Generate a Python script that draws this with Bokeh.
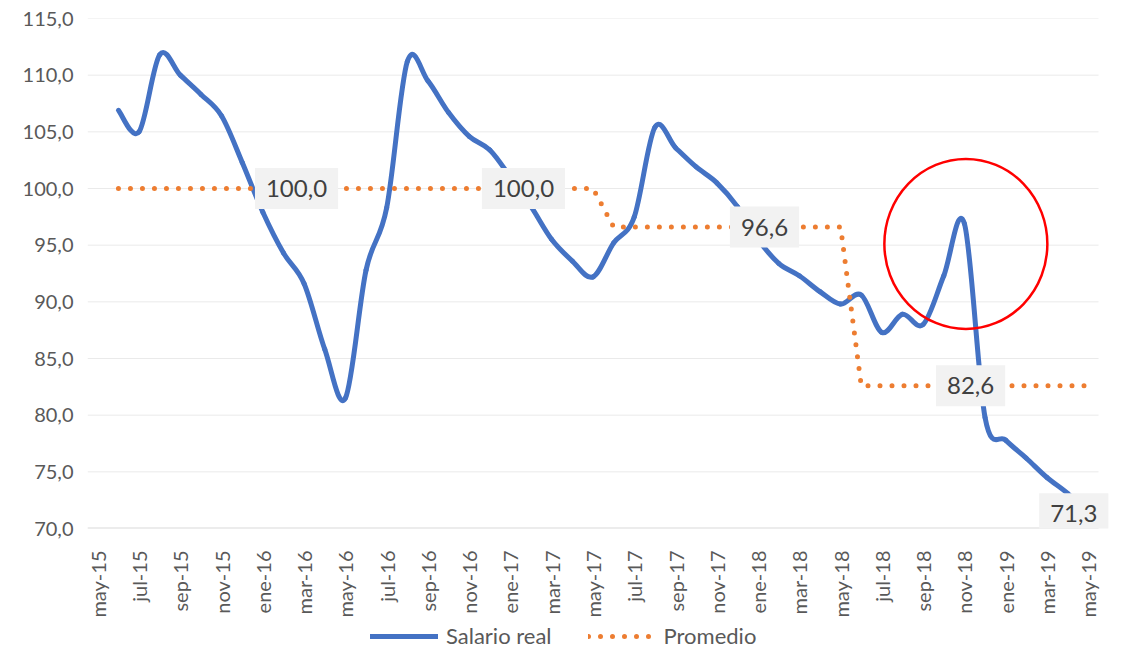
from math import pi
from bokeh.plotting import figure
from bokeh.layouts import column
from bokeh.models import Range1d, FixedTicker, Legend, LegendItem, Label
from bokeh.embed import file_html
from bokeh.resources import INLINE

# ---------------- data ----------------
months = ["may-15", "jun-15", "jul-15", "ago-15", "sep-15", "oct-15", "nov-15", "dic-15",
          "ene-16", "feb-16", "mar-16", "abr-16", "may-16", "jun-16", "jul-16", "ago-16",
          "sep-16", "oct-16", "nov-16", "dic-16",
          "ene-17", "feb-17", "mar-17", "abr-17", "may-17", "jun-17", "jul-17", "ago-17",
          "sep-17", "oct-17", "nov-17", "dic-17",
          "ene-18", "feb-18", "mar-18", "abr-18", "may-18", "jun-18", "jul-18", "ago-18",
          "sep-18", "oct-18", "nov-18", "dic-18",
          "ene-19", "feb-19", "mar-19", "abr-19", "may-19"]

# values from jun-15 to may-19 (may-15 is empty)
salario = [106.9, 105.0, 111.8, 110.0, 108.3, 106.4, 102.3,
           97.9, 94.3, 91.6, 85.8, 81.5, 92.8, 98.3, 111.2, 109.5, 106.7, 104.6, 103.4,
           101.0, 98.4, 95.5, 93.6, 92.2, 95.2, 97.5, 105.4, 103.6, 101.9, 100.5, 98.4,
           95.5, 93.4, 92.3, 90.9, 89.8, 90.6, 87.3, 88.9, 88.0, 92.3, 96.9, 79.8,
           77.8, 76.2, 74.5, 73.1, 71.3]

promedio = [100.0, 100.0, 100.0, 100.0, 100.0, 100.0, 100.0,
            100.0, 100.0, 100.0, 100.0, 100.0, 100.0, 100.0, 100.0, 100.0, 100.0, 100.0, 100.0,
            100.0, 100.0, 100.0, 100.0, 100.0, 96.6, 96.6, 96.6, 96.6, 96.6, 96.6, 96.6,
            96.6, 96.6, 96.6, 96.6, 96.6, 82.6, 82.6, 82.6, 82.6, 82.6, 82.6, 82.6,
            82.6, 82.6, 82.6, 82.6, 82.6]

y_ticks = [70, 75, 80, 85, 90, 95, 100, 105, 110, 115]

data_labels = [100.0, 100.0, 96.6, 82.6, 71.3]

series_names = ["Salario real", "Promedio"]

# ---------------- layout / style ----------------
label_x = [9.63, 20.63, 32.31, 42.30, 47.30]
highlight = dict(x=42.07, y=95.11, w=163, h=170)

FONT = "Lato"
BLUE = "#4472C4"
ORANGE = "#ED7D31"
GREY = "#595959"
GRID = "#EAEAEA"

def fmt(v):
    return f"{v:.1f}".replace(".", ",")

x_all = list(range(len(months)))
xs = x_all[1:]
x_lo, x_hi = -0.5, len(months) - 0.5

p = figure(width=1110, height=620, output_backend="svg", toolbar_location=None,
           x_range=Range1d(x_lo, 49.08), y_range=Range1d(70, 115),
           min_border_left=87, min_border_right=0, min_border_top=18, min_border_bottom=92)
p.outline_line_color = None
p.background_fill_color = "white"
p.border_fill_color = "white"

# axes
p.xaxis.ticker = FixedTicker(ticks=x_all[::2])
p.xaxis.major_label_overrides = {i: months[i] for i in x_all[::2]}
p.xaxis.major_label_orientation = pi / 2
p.xaxis.major_tick_line_color = None
p.xaxis.minor_tick_line_color = None
p.xaxis.axis_line_color = None
p.xaxis.major_label_standoff = 16
p.xaxis.major_label_text_font = FONT
p.xaxis.major_label_text_font_size = "20px"
p.xaxis.major_label_text_color = GREY

p.yaxis.ticker = FixedTicker(ticks=y_ticks)
p.yaxis.major_label_overrides = {t: fmt(t) for t in y_ticks}
p.yaxis.major_tick_line_color = None
p.yaxis.minor_tick_line_color = None
p.yaxis.axis_line_color = None
p.yaxis.major_label_standoff = 8
p.yaxis.major_label_text_font = FONT
p.yaxis.major_label_text_font_size = "20px"
p.yaxis.major_label_text_color = GREY

p.xgrid.grid_line_color = None
p.ygrid.grid_line_color = None

# horizontal gridlines across the category span, and the category axis line
grid_y = y_ticks[1:]
p.segment(x0=[x_lo] * len(grid_y), y0=grid_y, x1=[x_hi] * len(grid_y), y1=grid_y,
          line_color=GRID, line_width=1)
p.segment(x0=[x_lo], y0=[y_ticks[0]], x1=[x_hi], y1=[y_ticks[0]],
          line_color="#D9D9D9", line_width=2)

# smoothed blue line (Bezier segments through the data points)
n = len(salario)
x0, y0, x1, y1, cx0, cy0, cx1, cy1 = [], [], [], [], [], [], [], []
for k in range(n - 1):
    km = max(k - 1, 0)
    kp = min(k + 2, n - 1)
    x0.append(xs[k]); y0.append(salario[k])
    x1.append(xs[k + 1]); y1.append(salario[k + 1])
    cx0.append(xs[k] + (xs[k + 1] - xs[km]) / 6.0)
    cy0.append(salario[k] + (salario[k + 1] - salario[km]) / 6.0)
    cx1.append(xs[k + 1] - (xs[kp] - xs[k]) / 6.0)
    cy1.append(salario[k + 1] - (salario[kp] - salario[k]) / 6.0)

p.bezier(x0=x0, y0=y0, x1=x1, y1=y1, cx0=cx0, cy0=cy0, cx1=cx1, cy1=cy1,
         line_color=BLUE, line_width=5, line_cap="round")

p.line(xs, promedio, line_color=ORANGE, line_width=5, line_dash="0 12",
       line_cap="round", line_join="round")

# highlight ellipse
p.ellipse(x=[highlight["x"]], y=[highlight["y"]], width=highlight["w"], height=highlight["h"],
          width_units="screen", height_units="screen",
          fill_color=None, line_color="#FF0000", line_width=2.5)

# data labels
for lx, v in zip(label_x, data_labels):
    p.add_layout(Label(x=lx, y=v, text=fmt(v), text_align="center", text_baseline="middle",
                       text_font=FONT, text_font_size="24px", text_color="#404040",
                       background_fill_color="#F2F2F2", padding=(11, 12)))

# ---------------- legend strip ----------------
# the same series are plotted here outside the strip's visible window, only to key the legend
pl = figure(width=1110, height=31, output_backend="svg", toolbar_location=None,
            x_range=Range1d(-3, -2), y_range=Range1d(0, 1),
            x_axis_location=None, y_axis_location=None,
            min_border_left=87, min_border_right=0, min_border_top=0, min_border_bottom=0)
pl.outline_line_color = None
pl.xgrid.grid_line_color = None
pl.ygrid.grid_line_color = None
l_sal = pl.line(xs, salario, line_color=BLUE, line_width=5, line_cap="round")
l_prom = pl.line(xs, promedio, line_color=ORANGE, line_width=5, line_dash="0 12",
                 line_cap="round")
legend = Legend(items=[LegendItem(label=series_names[0], renderers=[l_sal]),
                       LegendItem(label=series_names[1], renderers=[l_prom])],
                orientation="horizontal", location=(283, 2),
                label_text_font=FONT, label_text_font_size="22px", label_text_color=GREY,
                glyph_width=68, glyph_height=20, label_standoff=8, spacing=36,
                padding=0, margin=0, border_line_color=None, background_fill_alpha=0)
pl.add_layout(legend, "center")

open("out.html", "w").write(file_html(column(p, pl, spacing=0), INLINE))
